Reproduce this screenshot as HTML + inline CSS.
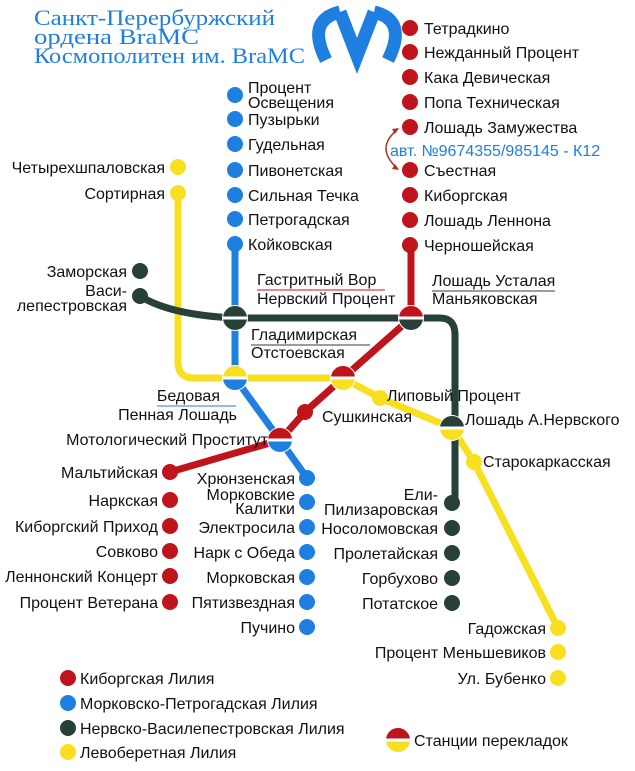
<!DOCTYPE html>
<html><head><meta charset="utf-8"><style>
html,body{margin:0;padding:0;background:#fff;width:635px;height:771px;overflow:hidden}
svg{display:block}
text{font-family:"Liberation Sans",sans-serif;font-size:16px;fill:#111}
.r{text-anchor:end}
.t{font-family:"Liberation Serif",serif;font-size:22px;fill:#1e7fe0}
</style></head><body>
<svg width="635" height="771" viewBox="0 0 635 771" xmlns="http://www.w3.org/2000/svg">
<defs>
<path id="ht" d="M-11.9 -1.5 A12 12 0 0 1 11.9 -1.5 Z"/>
<path id="hb" d="M-11.9 1.5 A12 12 0 0 0 11.9 1.5 Z"/>
</defs>
<text class="t" x="34" y="25" textLength="241" lengthAdjust="spacingAndGlyphs">Санкт-Перербуржский</text>
<text class="t" x="34" y="44" textLength="165" lengthAdjust="spacingAndGlyphs">ордена BraMC</text>
<text class="t" x="34" y="63" textLength="271" lengthAdjust="spacingAndGlyphs">Космополитен им. BraMC</text>
<g fill="none" stroke="#1e7fe0" stroke-width="13" stroke-linejoin="miter">
<path d="M326 60 Q306 20 340 12"/>
<path d="M340 12 L357 56 L374 12"/>
<path d="M374 12 Q408 20 388 60"/>
</g>
<!-- lines -->
<g fill="none" stroke-width="7">
<path d="M178 193 V362 Q178 378 194 378 H343 L380 398 L452 428 L474 462 L558 628" stroke="#f8e020"/>
<path d="M235 244 V378 L280 440 L307 478" stroke="#1e7fe0"/>
<path d="M140 296 Q170 315 235 318 H411 H440 Q455 318 455 335 V428 V505" stroke="#27403a"/>
<path d="M411 245 V318 L343 378 L305 412 L280 440 L170 472" stroke="#c0141c"/>
</g>
<g fill="#c0141c">
<circle cx="410" cy="28" r="8"/><circle cx="410" cy="52" r="8"/><circle cx="410" cy="77" r="8"/><circle cx="410" cy="102" r="8"/><circle cx="410" cy="127" r="8"/><circle cx="410" cy="170" r="8"/><circle cx="410" cy="195" r="8"/><circle cx="410" cy="220" r="8"/><circle cx="410" cy="245" r="8"/>
<circle cx="305" cy="412" r="8"/>
<circle cx="170" cy="472" r="8"/><circle cx="170" cy="500" r="8"/><circle cx="170" cy="526" r="8"/><circle cx="170" cy="551" r="8"/><circle cx="170" cy="576" r="8"/><circle cx="170" cy="602" r="8"/>
<circle cx="68" cy="678" r="8"/>
</g>
<g fill="#1e7fe0">
<circle cx="235" cy="95" r="8"/><circle cx="235" cy="119" r="8"/><circle cx="235" cy="144" r="8"/><circle cx="235" cy="170" r="8"/><circle cx="235" cy="195" r="8"/><circle cx="235" cy="219" r="8"/><circle cx="235" cy="244" r="8"/>
<circle cx="307" cy="478" r="8"/><circle cx="307" cy="502" r="8"/><circle cx="307" cy="527" r="8"/><circle cx="307" cy="552" r="8"/><circle cx="307" cy="577" r="8"/><circle cx="307" cy="602" r="8"/><circle cx="307" cy="627" r="8"/>
<circle cx="68" cy="703" r="8"/>
</g>
<g fill="#27403a">
<circle cx="140" cy="271" r="8"/><circle cx="140" cy="296" r="8"/>
<circle cx="452" cy="503" r="8"/><circle cx="452" cy="528" r="8"/><circle cx="452" cy="553" r="8"/><circle cx="452" cy="578" r="8"/><circle cx="452" cy="603" r="8"/>
<circle cx="68" cy="728" r="8"/>
</g>
<g fill="#f8e020">
<circle cx="178" cy="167" r="8"/><circle cx="178" cy="193" r="8"/>
<circle cx="380" cy="398" r="8"/><circle cx="474" cy="462" r="8"/>
<circle cx="558" cy="628" r="8"/><circle cx="558" cy="652" r="8"/><circle cx="558" cy="678" r="8"/>
<circle cx="68" cy="752" r="8"/>
</g>
<!-- interchanges -->
<g transform="translate(235,318)"><circle r="13" fill="#fff"/><use href="#ht" fill="#27403a"/><use href="#hb" fill="#27403a"/></g>
<g transform="translate(411,318)"><circle r="13" fill="#fff"/><use href="#ht" fill="#c0141c"/><use href="#hb" fill="#27403a"/></g>
<g transform="translate(235,378)"><circle r="13" fill="#fff"/><use href="#ht" fill="#f8e020"/><use href="#hb" fill="#1e7fe0"/></g>
<g transform="translate(343,378)"><circle r="13" fill="#fff"/><use href="#ht" fill="#c0141c"/><use href="#hb" fill="#f8e020"/></g>
<g transform="translate(280,440)"><circle r="13" fill="#fff"/><use href="#ht" fill="#c0141c"/><use href="#hb" fill="#1e7fe0"/></g>
<g transform="translate(452,428)"><circle r="13" fill="#fff"/><use href="#ht" fill="#27403a"/><use href="#hb" fill="#f8e020"/></g>
<g transform="translate(398,740)"><use href="#ht" fill="#c0141c"/><use href="#hb" fill="#f8e020"/></g>
<!-- arrow -->
<path d="M397 130 Q375 148 397 168" fill="none" stroke="#b03020" stroke-width="1.5"/>
<path d="M399 128 l-7 1 l3 5z M399 170 l-7 -1 l3 -5z" fill="#b03020"/>
<text x="424" y="34">Тетрадкино</text>
<text x="424" y="58">Нежданный Процент</text>
<text x="424" y="83">Кака Девическая</text>
<text x="424" y="108">Попа Техническая</text>
<text x="424" y="133">Лошадь Замужества</text>
<text x="390" y="156" style="fill:#1e7fe0">авт. №9674355/985145 - К12</text>
<text x="424" y="176">Съестная</text>
<text x="424" y="201">Киборгская</text>
<text x="424" y="226">Лошадь Леннона</text>
<text x="424" y="251">Черношейская</text>
<text x="248" y="93">Процент</text>
<text x="248" y="108">Освещения</text>
<text x="248" y="125">Пузырьки</text>
<text x="248" y="150">Гудельная</text>
<text x="248" y="176">Пивонетская</text>
<text x="248" y="201">Сильная Течка</text>
<text x="248" y="225">Петрогадская</text>
<text x="248" y="250">Койковская</text>
<text class="r" x="165" y="173">Четырехшпаловская</text>
<text class="r" x="165" y="199">Сортирная</text>
<text class="r" x="127" y="277">Заморская</text>
<text class="r" x="127" y="296">Васи-</text>
<text class="r" x="127" y="311">лепестровская</text>
<text x="257" y="285">Гастритный Вор</text>
<line x1="257" y1="290" x2="385" y2="290" stroke="#c0141c" stroke-width="1"/>
<text x="257" y="304">Нервский Процент</text>
<text x="432" y="286">Лошадь Усталая</text>
<line x1="432" y1="291" x2="555" y2="291" stroke="#27403a" stroke-width="1"/>
<text x="432" y="304">Маньяковская</text>
<text x="251" y="340">Гладимирская</text>
<line x1="251" y1="345" x2="370" y2="345" stroke="#27403a" stroke-width="1"/>
<text x="251" y="358">Отстоевская</text>
<text class="r" x="220" y="401">Бедовая</text>
<line x1="157" y1="406" x2="236" y2="406" stroke="#1e7fe0" stroke-width="1"/>
<text class="r" x="237" y="420">Пенная Лошадь</text>
<text class="r" x="268" y="445">Мотологический Проститут</text>
<text x="322" y="422">Сушкинская</text>
<text x="387" y="401">Липовый Процент</text>
<text x="465" y="425">Лошадь А.Нервского</text>
<text x="483" y="467">Старокаркасская</text>
<text class="r" x="158" y="478">Мальтийская</text>
<text class="r" x="158" y="506">Наркская</text>
<text class="r" x="158" y="532">Киборгский Приход</text>
<text class="r" x="158" y="557">Совково</text>
<text class="r" x="158" y="582">Леннонский Концерт</text>
<text class="r" x="158" y="608">Процент Ветерана</text>
<text class="r" x="295" y="484">Хрюнзенская</text>
<text class="r" x="295" y="500">Морковские</text>
<text class="r" x="295" y="514">Калитки</text>
<text class="r" x="295" y="533">Электросила</text>
<text class="r" x="295" y="558">Нарк с Обеда</text>
<text class="r" x="295" y="583">Морковская</text>
<text class="r" x="295" y="608">Пятизвездная</text>
<text class="r" x="295" y="633">Пучино</text>
<text class="r" x="438" y="500">Ели-</text>
<text class="r" x="438" y="515">Пилизаровская</text>
<text class="r" x="438" y="534">Носоломовская</text>
<text class="r" x="438" y="559">Пролетайская</text>
<text class="r" x="438" y="584">Горбухово</text>
<text class="r" x="438" y="609">Потатское</text>
<text class="r" x="546" y="634">Гадожская</text>
<text class="r" x="546" y="658">Процент Меньшевиков</text>
<text class="r" x="546" y="684">Ул. Бубенко</text>
<text x="80" y="684">Киборгская Лилия</text>
<text x="80" y="709">Морковско-Петрогадская Лилия</text>
<text x="80" y="734">Нервско-Василепестровская Лилия</text>
<text x="80" y="758">Левоберетная Лилия</text>
<text x="414" y="746">Станции перекладок</text>
</svg>
</body></html>
